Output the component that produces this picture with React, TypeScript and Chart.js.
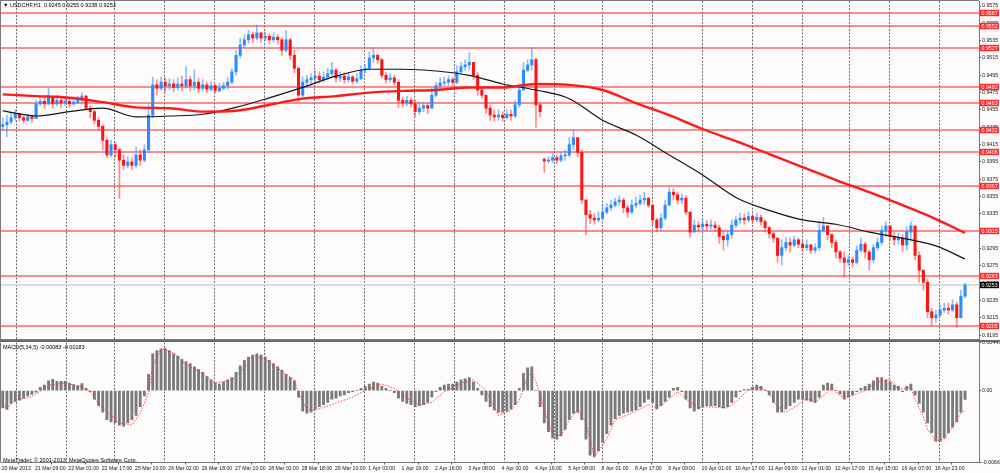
import React, { useEffect, useRef } from 'react';
import { Chart, registerables } from 'chart.js';

Chart.register(...registerables);
Chart.defaults.font.family = '"Liberation Sans", Arial, sans-serif';

// USDCHF H1, 20 Mar 2013 17:00 .. 17 Apr 2013. One candle here = two H1 bars.
// Prices in pips (x 1e-4)
const closes = [
  9438, 9441, 9446, 9451, 9446, 9443, 9447, 9445, 9462, 9465,
  9462, 9469, 9462, 9466, 9463, 9465, 9462, 9464, 9466, 9471,
  9457, 9453, 9443, 9436, 9420, 9403, 9415, 9409, 9397, 9391,
  9395, 9391, 9403, 9397, 9409, 9449, 9484, 9480, 9487, 9483,
  9485, 9481, 9485, 9483, 9490, 9483, 9487, 9480, 9484, 9479,
  9483, 9477, 9480, 9483, 9487, 9499, 9518, 9530, 9536, 9542,
  9538, 9544, 9538, 9540, 9536, 9539, 9536, 9524, 9536, 9518,
  9503, 9472, 9487, 9490, 9492, 9494, 9490, 9493, 9497, 9501,
  9492, 9494, 9490, 9493, 9488, 9491, 9501, 9503, 9515, 9518,
  9513, 9495, 9490, 9492, 9487, 9466, 9463, 9466, 9462, 9453,
  9457, 9460, 9457, 9472, 9483, 9486, 9487, 9490, 9487, 9499,
  9505, 9507, 9510, 9495, 9478, 9472, 9457, 9449, 9447, 9449,
  9446, 9450, 9448, 9461, 9478, 9501, 9507, 9513, 9461, 9453,
  9396, 9397, 9400, 9397, 9402, 9403, 9415, 9423, 9406, 9351,
  9334, 9330, 9328, 9330, 9337, 9342, 9345, 9349, 9351, 9342,
  9337, 9345, 9347, 9351, 9353, 9345, 9328, 9319, 9330, 9345,
  9360, 9357, 9351, 9353, 9337, 9314, 9322, 9320, 9323, 9321,
  9322, 9319, 9309, 9305, 9311, 9322, 9328, 9330, 9328, 9332,
  9328, 9331, 9326, 9319, 9312, 9307, 9287, 9296, 9302, 9299,
  9305, 9300, 9296, 9299, 9293, 9296, 9316, 9321, 9311, 9302,
  9291, 9284, 9279, 9282, 9279, 9293, 9300, 9291, 9282, 9296,
  9302, 9316, 9321, 9309, 9305, 9307, 9299, 9314, 9321, 9287,
  9270, 9256, 9222, 9215, 9218, 9224, 9226, 9224, 9230, 9215,
  9240, 9253,
];
const highs = [
  9446, 9449, 9453, 9455, 9451, 9448, 9450, 9449, 9466, 9471,
  9470, 9481, 9470, 9472, 9470, 9470, 9468, 9469, 9471, 9475,
  9472, 9460, 9455, 9446, 9438, 9423, 9420, 9418, 9411, 9403,
  9401, 9400, 9412, 9409, 9415, 9461, 9493, 9490, 9493, 9492,
  9491, 9490, 9492, 9494, 9505, 9494, 9501, 9492, 9490, 9487,
  9488, 9485, 9486, 9487, 9492, 9503, 9524, 9538, 9542, 9547,
  9545, 9553, 9544, 9545, 9543, 9544, 9542, 9538, 9547, 9538,
  9524, 9505, 9493, 9495, 9497, 9501, 9499, 9499, 9503, 9510,
  9503, 9499, 9498, 9498, 9495, 9497, 9506, 9507, 9522, 9527,
  9520, 9515, 9498, 9497, 9495, 9490, 9470, 9471, 9469, 9466,
  9464, 9464, 9463, 9480, 9487, 9492, 9493, 9494, 9493, 9506,
  9510, 9513, 9521, 9510, 9498, 9480, 9472, 9461, 9455, 9455,
  9453, 9455, 9455, 9466, 9484, 9510, 9513, 9527, 9515, 9463,
  9400, 9401, 9405, 9403, 9406, 9409, 9423, 9432, 9423, 9409,
  9351, 9339, 9335, 9337, 9345, 9347, 9351, 9353, 9356, 9353,
  9345, 9351, 9354, 9357, 9360, 9354, 9345, 9330, 9335, 9351,
  9365, 9364, 9360, 9358, 9356, 9337, 9328, 9326, 9328, 9327,
  9328, 9326, 9322, 9316, 9316, 9328, 9332, 9336, 9335, 9337,
  9335, 9336, 9334, 9328, 9321, 9314, 9307, 9305, 9308, 9307,
  9309, 9307, 9304, 9305, 9300, 9300, 9326, 9331, 9322, 9312,
  9305, 9293, 9291, 9287, 9285, 9298, 9307, 9302, 9293, 9300,
  9307, 9321, 9326, 9321, 9314, 9313, 9311, 9320, 9326, 9321,
  9291, 9270, 9259, 9226, 9224, 9230, 9232, 9232, 9236, 9233,
  9247, 9255,
];
const lows = [
  9432, 9424, 9439, 9443, 9442, 9440, 9442, 9441, 9445, 9460,
  9457, 9461, 9457, 9460, 9458, 9460, 9458, 9460, 9462, 9463,
  9455, 9446, 9439, 9431, 9409, 9400, 9401, 9400, 9353, 9386,
  9388, 9386, 9388, 9391, 9395, 9406, 9446, 9472, 9478, 9476,
  9478, 9476, 9478, 9477, 9480, 9477, 9478, 9475, 9477, 9475,
  9477, 9475, 9476, 9478, 9479, 9485, 9495, 9515, 9527, 9532,
  9533, 9536, 9533, 9535, 9532, 9533, 9531, 9518, 9522, 9513,
  9498, 9464, 9470, 9480, 9484, 9487, 9486, 9487, 9490, 9493,
  9487, 9488, 9486, 9487, 9485, 9486, 9490, 9498, 9501, 9510,
  9508, 9492, 9486, 9487, 9484, 9458, 9458, 9460, 9458, 9447,
  9450, 9453, 9451, 9457, 9470, 9480, 9483, 9483, 9483, 9485,
  9497, 9501, 9501, 9490, 9472, 9469, 9451, 9443, 9442, 9443,
  9442, 9445, 9443, 9446, 9458, 9478, 9499, 9501, 9435, 9447,
  9383, 9394, 9394, 9393, 9395, 9397, 9401, 9409, 9401, 9347,
  9311, 9324, 9323, 9326, 9328, 9335, 9339, 9343, 9345, 9336,
  9331, 9335, 9342, 9345, 9346, 9342, 9322, 9314, 9316, 9328,
  9345, 9351, 9346, 9347, 9334, 9308, 9314, 9315, 9316, 9316,
  9317, 9315, 9301, 9293, 9298, 9307, 9319, 9324, 9323, 9326,
  9324, 9326, 9322, 9314, 9307, 9302, 9279, 9276, 9293, 9291,
  9297, 9296, 9292, 9293, 9289, 9290, 9293, 9314, 9305, 9296,
  9284, 9279, 9262, 9275, 9274, 9277, 9291, 9284, 9270, 9279,
  9293, 9299, 9309, 9305, 9299, 9300, 9291, 9293, 9305, 9282,
  9256, 9247, 9215, 9206, 9210, 9217, 9221, 9219, 9222, 9204,
  9215, 9238,
];
// candles whose open is not the previous close: [candle, open]
const openGaps = [[0, 9436], [130, 9398]];

// moving averages, sampled at candle indexes (pips)
const maIdx = [0, 8, 16, 24, 32, 40, 48, 56, 64, 72, 80, 88, 96, 104, 112, 120, 128, 136, 144, 152, 160, 168, 176, 184, 192, 200, 208, 216, 224, 231];
const maFast = [9454, 9448, 9453, 9457, 9447, 9448, 9450, 9458, 9469, 9481, 9494, 9502, 9502, 9500, 9495, 9485, 9478, 9468, 9443, 9426, 9403, 9380, 9354, 9339, 9328, 9323, 9314, 9307, 9298, 9283];
const maSlow = [9473, 9471, 9469, 9464, 9458, 9457, 9453, 9454, 9461, 9468, 9471, 9475, 9477, 9478, 9481, 9481, 9485, 9484, 9478, 9463, 9449, 9433, 9419, 9404, 9389, 9374, 9360, 9345, 9329, 9313];

// MACD(5,34,5) histogram per candle (x 1e-5)
const macdHist = [
  -160, -175, -120, -100, -90, -70, -50, -35, -15, 30,
  50, 90, 105, 85, 85, 85, 70, 55, 45, 65,
  20, -10, -80, -140, -200, -270, -290, -300, -320, -330,
  -300, -270, -230, -150, -50, 150, 340, 370, 385, 390,
  370, 340, 320, 290, 270, 250, 220, 195, 170, 130,
  100, 70, 60, 80, 100, 120, 170, 230, 280, 310,
  330, 340, 330, 310, 280, 250, 220, 190, 150, 120,
  90, -60, -190, -210, -200, -170, -150, -130, -110, -80,
  -70, -50, -40, -20, -10, 0, 20, 40, 60, 80,
  70, 40, 20, 0, -20, -70, -100, -120, -130, -150,
  -140, -130, -110, -60, -10, 30, 50, 60, 60, 80,
  100, 110, 120, 80, 20, -40, -100, -150, -180, -200,
  -200, -190, -170, -130, 20, 160, 210, 220, 0, -150,
  -300, -380, -440, -450, -420, -360, -270, -210, -200, -270,
  -450, -600, -610, -560, -480, -400, -320, -260, -230, -210,
  -200, -190, -180, -150, -110, -80, -110, -170, -140, -100,
  -60, 20, 30, -10, -80, -160, -190, -170, -150, -140,
  -140, -140, -150, -160, -150, -110, -60, -10, 10, 10,
  30, 50, 40, 0, -40, -110, -200, -200, -170, -140,
  -110, -80, -80, -90, -100, -110, -60, 50, 70, 60,
  0, -30, -80, -60, -40, -10, 20, 40, 60, 90,
  120, 120, 100, 80, 50, 40, -10, 40, 60, -40,
  -120, -200, -300, -390, -470, -470, -440, -390, -340, -290,
  -200, -83,
];
// signal line, sampled at candle indexes (x 1e-5)
const signalIdx = [0, 1, 3, 7, 10, 11, 15, 19, 21, 23, 26, 28, 31, 33, 35, 36, 38, 41, 44, 47, 51, 55, 58, 60, 63, 67, 70, 71, 73, 75, 79, 84, 88, 91, 94, 97, 100, 103, 106, 110, 113, 116, 119, 122, 124, 126, 127, 128, 129, 131, 132, 134, 136, 138, 140, 141, 142, 145, 147, 151, 155, 157, 159, 162, 164, 167, 169, 174, 177, 179, 182, 184, 186, 188, 191, 193, 195, 198, 199, 201, 203, 207, 210, 213, 215, 218, 219, 221, 222, 224, 226, 228, 230, 231];
const signalVal = [-119, -165, -88, -57, 20, 50, 70, 34, -10, -120, -230, -300, -320, -210, -20, 220, 390, 350, 240, 180, 70, 100, 210, 320, 290, 180, 100, -20, -180, -180, -130, -60, 20, 60, 20, -70, -130, -110, -10, 70, 100, 0, -230, -180, -90, 130, 170, 80, -40, -300, -400, -420, -270, -180, -300, -450, -620, -450, -270, -210, -130, -160, -110, -10, -80, -160, -150, -160, -70, 10, 30, -20, -150, -200, -130, -70, -110, -10, 30, -50, -60, 0, 80, 100, 10, 30, -80, -240, -360, -470, -450, -340, -210, -183];

const levels = [0.9567, 0.9552, 0.9527, 0.9482, 0.9463, 0.9432, 0.9406, 0.9367, 0.9315, 0.9263, 0.9205];
const priceTicks = [0.9575, 0.9555, 0.9535, 0.9515, 0.9495, 0.9475, 0.9455, 0.9435, 0.9415, 0.9395, 0.9375, 0.9355, 0.9335, 0.9315, 0.9295, 0.9275, 0.9255, 0.9235, 0.9215, 0.9195];
const macdTicks = [0.00446, 0, -0.00667];
const timeLabels = ['20 Mar 2013', '21 Mar 09:00', '22 Mar 01:00', '22 Mar 17:00', '25 Mar 10:00', '26 Mar 02:00', '26 Mar 18:00', '27 Mar 10:00', '28 Mar 02:00', '28 Mar 18:00', '29 Mar 10:00', '1 Apr 03:00', '1 Apr 19:00', '2 Apr 16:00', '3 Apr 08:00', '4 Apr 00:00', '4 Apr 16:00', '5 Apr 08:00', '8 Apr 01:00', '8 Apr 17:00', '9 Apr 09:00', '10 Apr 01:00', '10 Apr 17:00', '11 Apr 09:00', '12 Apr 01:00', '12 Apr 17:00', '15 Apr 15:00', '16 Apr 07:00', '16 Apr 23:00'];
// H1 bar index of each day start (vertical grid)
const dayHours = [7, 31, 54, 78, 102, 126, 150, 174, 198, 217, 241, 265, 288, 312, 336, 360, 384, 407, 426, 450];
const lastBar = [0.9245, 0.9255, 0.9238, 0.9253];
const macdLast = [-0.00083, -0.00183];

const H_MIN = -0.34;
const H_MAX = 469.2;
const BG = '#fdfbfb';
const TXT = '5.3px "Liberation Sans", Arial, sans-serif';

const pip = (v: number) => v / 10000;
const barX = (i: number) => i * 2 + 0.5; // candle i covers H1 bars 2i, 2i+1
const tickHours = timeLabels.map((_, i) => i * 16);

const opens = closes.map((_, i) => {
  const g = openGaps.find((o) => o[0] === i);
  return g ? g[1] : closes[i - 1];
});
const isUp = closes.map((c, i) => c >= opens[i]);

const paper = {
  id: 'paper',
  beforeDraw(chart: any) {
    const { ctx, width, height } = chart;
    ctx.save();
    ctx.fillStyle = BG;
    ctx.fillRect(0, 0, width, height);
    ctx.restore();
  },
};

const dayGrid = {
  id: 'dayGrid',
  beforeDatasetsDraw(chart: any) {
    const { ctx, chartArea: a } = chart;
    const x = chart.scales.x;
    ctx.save();
    ctx.strokeStyle = '#6e6e6e';
    ctx.lineWidth = 1;
    ctx.setLineDash([2, 1.5]);
    dayHours.forEach((h) => {
      const px = Math.round(x.getPixelForValue(h)) + 0.5;
      ctx.beginPath();
      ctx.moveTo(px, a.top);
      ctx.lineTo(px, a.bottom);
      ctx.stroke();
    });
    ctx.restore();
  },
};

const priceBox = (ctx: any, a: any, y: number, text: string, fill: string) => {
  ctx.fillStyle = fill;
  ctx.fillRect(a.right + 1, y - 3.2, 19, 6.4);
  ctx.fillStyle = '#ffffff';
  ctx.font = TXT;
  ctx.textBaseline = 'middle';
  ctx.textAlign = 'left';
  ctx.fillText(text, a.right + 2.5, y + 0.3);
};

const levelPlugin = {
  id: 'levels',
  beforeDatasetsDraw(chart: any) {
    const { ctx, chartArea: a } = chart;
    const y = chart.scales.y;
    ctx.save();
    const cy = Math.round(y.getPixelForValue(pip(closes[closes.length - 1])));
    ctx.strokeStyle = '#d2d2d2';
    ctx.lineWidth = 1.6;
    ctx.beginPath();
    ctx.moveTo(a.left, cy);
    ctx.lineTo(a.right, cy);
    ctx.stroke();
    ctx.strokeStyle = 'rgba(255,60,60,0.78)';
    ctx.lineWidth = 1.4;
    levels.forEach((l) => {
      const py = Math.round(y.getPixelForValue(l));
      ctx.beginPath();
      ctx.moveTo(a.left, py);
      ctx.lineTo(a.right, py);
      ctx.stroke();
    });
    ctx.restore();
  },
  afterDraw(chart: any) {
    const { ctx, chartArea: a } = chart;
    const y = chart.scales.y;
    ctx.save();
    levels.forEach((l) => priceBox(ctx, a, Math.round(y.getPixelForValue(l)), l.toFixed(4), '#ff2a2a'));
    const last = pip(closes[closes.length - 1]);
    priceBox(ctx, a, Math.round(y.getPixelForValue(last)), last.toFixed(4), '#000000');
    // frame
    ctx.strokeStyle = '#7a7a7a';
    ctx.lineWidth = 1;
    ctx.beginPath();
    ctx.moveTo(0.5, a.top);
    ctx.lineTo(0.5, a.bottom);
    ctx.moveTo(0, 0.5);
    ctx.lineTo(a.right, 0.5);
    ctx.moveTo(0, a.bottom + 0.5);
    ctx.lineTo(a.right, a.bottom + 0.5);
    ctx.stroke();
    ctx.restore();
  },
};

const macdFrame = {
  id: 'macdFrame',
  afterDraw(chart: any) {
    const { ctx, chartArea: a, width } = chart;
    ctx.save();
    ctx.strokeStyle = '#6a6a6a';
    ctx.lineWidth = 2;
    ctx.beginPath();
    ctx.moveTo(0, 1);
    ctx.lineTo(width, 1);
    ctx.stroke();
    ctx.strokeStyle = '#7a7a7a';
    ctx.lineWidth = 1;
    ctx.beginPath();
    ctx.moveTo(0.5, a.top);
    ctx.lineTo(0.5, a.bottom);
    ctx.stroke();
    ctx.restore();
  },
};

const rightAxis = (min: number, max: number, ticks: number[], fmt: (v: number) => string) => ({
  position: 'right',
  min,
  max,
  afterBuildTicks: (s: any) => {
    s.ticks = ticks.map((value) => ({ value }));
  },
  afterFit: (s: any) => {
    s.width = 21;
    s.paddingTop = 0;
    s.paddingBottom = 0;
  },
  ticks: { autoSkip: false, padding: 1, color: '#202020', font: { size: 5.3 }, callback: (v: any) => fmt(Number(v)) },
  grid: { drawOnChartArea: false, tickLength: 2, color: '#555555' },
  border: { color: '#777777' },
});

const MainPanel: React.FC = () => {
  const chartRef = useRef<HTMLCanvasElement | null>(null);

  useEffect(() => {
    if (!chartRef.current) return;
    const chart = new Chart(chartRef.current, {
      type: 'bar',
      data: {
        datasets: [
          {
            type: 'line',
            data: maIdx.map((j, k) => ({ x: barX(j), y: pip(maSlow[k]) })),
            borderColor: '#ff1a1a',
            borderWidth: 2.4,
            pointRadius: 0,
            cubicInterpolationMode: 'monotone',
            order: 0,
          },
          {
            type: 'line',
            data: maIdx.map((j, k) => ({ x: barX(j), y: pip(maFast[k]) })),
            borderColor: '#151515',
            borderWidth: 1.2,
            pointRadius: 0,
            cubicInterpolationMode: 'monotone',
            order: 1,
          },
          {
            data: closes.map((c, i) => ({
              x: barX(i),
              y: [pip(Math.min(lows[i], opens[i], c)), pip(Math.max(highs[i], opens[i], c))],
            })),
            backgroundColor: isUp.map((u) => (u ? 'rgba(60,150,255,0.6)' : 'rgba(255,50,50,0.55)')),
            barThickness: 1,
            grouped: false,
            order: 3,
          },
          {
            data: closes.map((c, i) => ({ x: barX(i), y: [pip(opens[i]), pip(c)] })),
            backgroundColor: isUp.map((u) => (u ? '#2a8cff' : '#ff1414')),
            barThickness: 2.4,
            minBarLength: 1,
            grouped: false,
            order: 2,
          },
        ],
      },
      options: {
        animation: false,
        responsive: false,
        events: [],
        layout: { padding: { left: 1, top: 1, right: 0, bottom: 1 } },
        plugins: { legend: { display: false }, tooltip: { enabled: false } },
        scales: {
          x: { type: 'linear', min: H_MIN, max: H_MAX, offset: false, display: false },
          y: rightAxis(0.91905, 0.95808, priceTicks, (v) => v.toFixed(4)),
        },
      },
      plugins: [paper, dayGrid, levelPlugin],
    } as any);
    return () => {
      chart.destroy();
    };
  }, []);

  return <canvas ref={chartRef} width={1000} height={340} style={{ display: 'block' }} />;
};

const MacdPanel: React.FC = () => {
  const chartRef = useRef<HTMLCanvasElement | null>(null);

  useEffect(() => {
    if (!chartRef.current) return;
    const chart = new Chart(chartRef.current, {
      type: 'bar',
      data: {
        datasets: [
          {
            type: 'line',
            data: signalIdx.map((j, k) => ({ x: barX(j), y: signalVal[k] / 1e5 })),
            borderColor: 'rgba(255,50,50,0.9)',
            borderWidth: 1,
            borderDash: [1.5, 1.5],
            pointRadius: 0,
            order: 0,
          },
          {
            data: macdHist.map((v, i) => ({ x: barX(i), y: v / 1e5 })),
            backgroundColor: '#7a7a7a',
            barThickness: 2.2,
            grouped: false,
            order: 1,
          },
        ],
      },
      options: {
        animation: false,
        responsive: false,
        events: [],
        layout: { padding: { left: 1, top: 2.5, right: 0, bottom: 0 } },
        plugins: { legend: { display: false }, tooltip: { enabled: false } },
        scales: {
          x: {
            type: 'linear',
            min: H_MIN,
            max: H_MAX,
            offset: false,
            afterBuildTicks: (s: any) => {
              s.ticks = tickHours.map((value) => ({ value }));
            },
            afterFit: (s: any) => {
              s.height = 10.5;
              s.paddingLeft = 0;
              s.paddingRight = 0;
            },
            ticks: {
              autoSkip: false,
              maxRotation: 0,
              align: 'start',
              padding: 0.5,
              color: '#202020',
              font: { size: 5.2 },
              callback: (_v: any, i: number) => timeLabels[i],
            },
            grid: { drawOnChartArea: false, tickLength: 2, color: '#555555' },
            border: { color: '#777777' },
          },
          y: rightAxis(-0.00667, 0.00446, macdTicks, (v) => (v === 0 ? '0.00' : v.toFixed(5))),
        },
      },
      plugins: [paper, dayGrid, macdFrame],
    } as any);
    return () => {
      chart.destroy();
    };
  }, []);

  return <canvas ref={chartRef} width={1000} height={133} style={{ display: 'block' }} />;
};

const label: React.CSSProperties = {
  position: 'absolute',
  left: 3,
  font: '5.5px "Liberation Sans", Arial, sans-serif',
  color: '#000',
  whiteSpace: 'pre',
  lineHeight: '6px',
};

export default function App() {
  return (
    <div style={{ position: 'absolute', left: 0, top: 0, width: 1000, height: 473, background: BG, overflow: 'hidden' }}>
      <MainPanel />
      <MacdPanel />
      <div style={{ ...label, top: 2 }}>
        {'\u25BC USDCHF,H1  ' + lastBar.map((v) => v.toFixed(4)).join(' ')}
      </div>
      <div style={{ ...label, top: 344 }}>
        {'MACD(5,34,5) ' + macdLast.map((v) => v.toFixed(5)).join(' ')}
      </div>
      <div style={{ ...label, top: 456.5 }}>MetaTrader, © 2001-2013, MetaQuotes Software Corp.</div>
    </div>
  );
}
